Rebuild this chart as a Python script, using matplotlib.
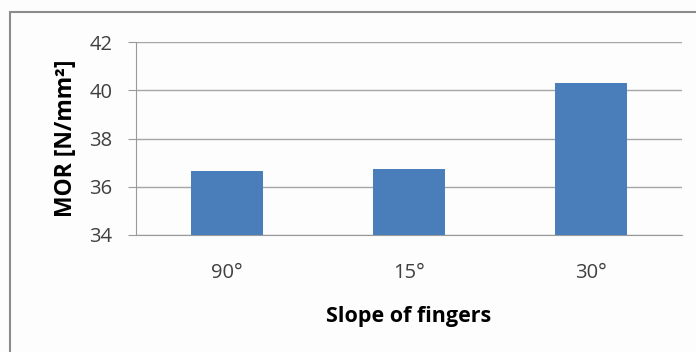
import matplotlib
matplotlib.use("Agg")
import matplotlib.pyplot as plt
from matplotlib.patches import Rectangle

categories = ["90°", "15°", "30°"]
mor_values = [36.65, 36.73, 40.29]
y_ticks = [34, 36, 38, 40, 42]

plt.rcParams['font.family'] = ['Open Sans', 'DejaVu Sans']

fig = plt.figure(figsize=(6.96, 3.52), dpi=100)
fig.patch.set_facecolor("#fdfdfd")

# outer chart frame (left and top edges)
fig.add_artist(Rectangle((10 / 696, -0.1), 1.2, (352 - 12) / 352 + 0.1,
                         transform=fig.transFigure, fill=False,
                         edgecolor="#8c8c8c", linewidth=1.5))

ax = fig.add_axes([136 / 696, 1 - 235 / 352, (682 - 136) / 696, (235 - 42) / 352])
ax.set_facecolor("#fdfdfd")

x = range(len(categories))
ax.bar(x, [v - y_ticks[0] for v in mor_values], bottom=y_ticks[0],
       width=0.4, color="#4a7ebb", zorder=3)

ax.set_xlim(-0.5, 2.5)
ax.set_ylim(y_ticks[0], y_ticks[-1])
ax.set_yticks(y_ticks)
ax.set_xticks(list(x))
ax.set_xticklabels(categories)

ax.yaxis.grid(True, color="#a6a6a6", linewidth=1.0, zorder=0)
for side in ("top", "right"):
    ax.spines[side].set_visible(False)
ax.spines["left"].set_color("#9a9a9a")
ax.spines["bottom"].set_color("#9a9a9a")
ax.tick_params(axis="y", length=6, color="#9a9a9a", labelsize=14.5,
               labelcolor="#404040", pad=11)
ax.tick_params(axis="x", length=0, labelsize=14.5, labelcolor="#404040", pad=20)

ax.set_ylabel("MOR [N/mm²]", fontsize=16.5, fontweight="bold", labelpad=8)
ax.set_xlabel("Slope of fingers", fontsize=15.5, fontweight="bold", labelpad=17)

fig.savefig("out.png", dpi=100, facecolor=fig.get_facecolor())
